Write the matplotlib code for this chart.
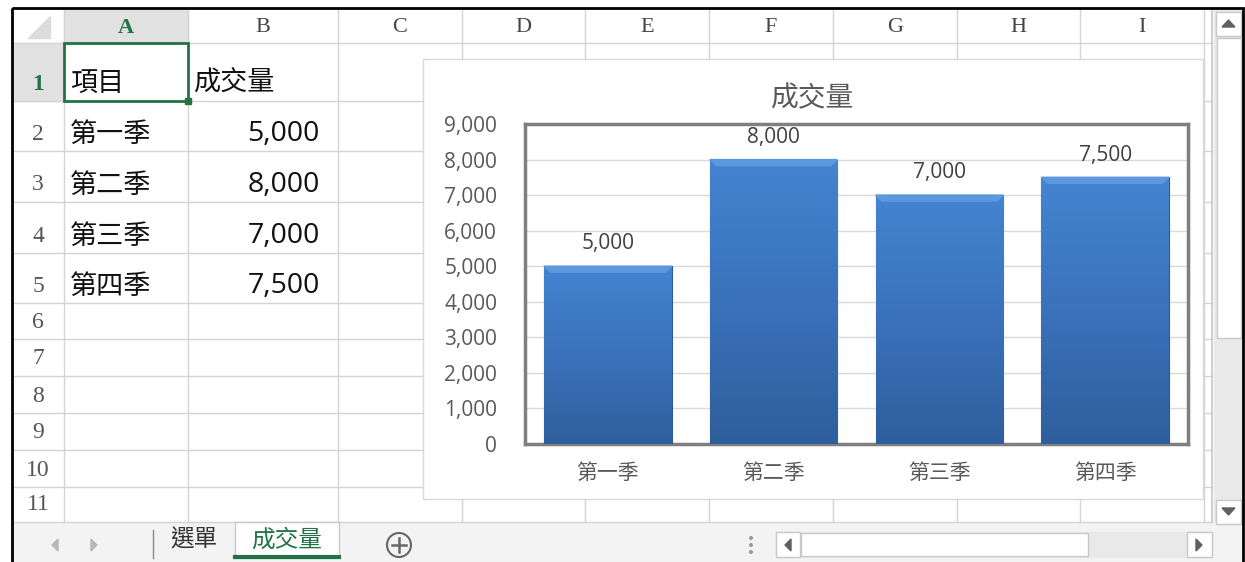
import matplotlib.pyplot as plt
import matplotlib.patches as mpatches
import numpy as np
from matplotlib.colors import LinearSegmentedColormap
from matplotlib.ticker import FuncFormatter, MultipleLocator

plt.rcParams['font.family'] = ['Noto Sans CJK TC', 'DejaVu Sans']

# sheet data
header_a = '項目'
header_b = '成交量'
quarters = ['第一季', '第二季', '第三季', '第四季']
volumes = [5000, 8000, 7000, 7500]
sheet_tabs = ['選單', '成交量']
col_letters = ['A', 'B', 'C', 'D', 'E', 'F', 'G', 'H', 'I']

W, H = 1245, 562
fig = plt.figure(figsize=(W / 100, H / 100), dpi=100)
bg = fig.add_axes([0, 0, 1, 1])
bg.set_xlim(0, W)
bg.set_ylim(H, 0)
bg.axis('off')

grid_c = '#d4d4d4'
green = '#217346'
serif = 'Liberation Serif'

# column and row edges of the sheet (pixels)
col_edges = [64, 188, 338, 462, 585, 709, 833, 957, 1080, 1204]
row_edges = [43, 101, 151, 202, 253, 303, 339, 376, 413, 450, 487, 522]
sheet_right = 1212

# header row / row header backgrounds
bg.add_patch(mpatches.Rectangle((12, 8), sheet_right - 12, 35, color='white', zorder=0))
bg.add_patch(mpatches.Rectangle((64, 8), 124, 35, color='#e1e1e1', zorder=1))
bg.add_patch(mpatches.Rectangle((12, 43), 52, 58, color='#e1e1e1', zorder=1))
bg.add_patch(mpatches.Polygon([[50, 16], [50, 38], [28, 38]], color='#dcdcdc', zorder=2))

# grid lines
for x in col_edges:
    bg.plot([x, x], [8, 522], color=grid_c, lw=1, zorder=2)
for y in row_edges:
    bg.plot([12, sheet_right], [y, y], color=grid_c, lw=1, zorder=2)
bg.plot([sheet_right, sheet_right], [8, 522], color='#c6c6c6', lw=1.2, zorder=2)

# column letters
for i, letter in enumerate(col_letters):
    cx = (col_edges[i] + col_edges[i + 1]) / 2
    bg.text(cx, 28, letter, ha='center', va='center', fontsize=16, family=serif,
            color=green if i == 0 else '#444444', fontweight='bold' if i == 0 else 'normal', zorder=3)

# row numbers (bottom aligned like excel)
for r in range(len(row_edges) - 1):
    cy = row_edges[r + 1] - 17
    bg.text(38, cy, str(r + 1), ha='center', va='center', fontsize=17, family=serif,
            color=green if r == 0 else '#555555', fontweight='bold' if r == 0 else 'normal', zorder=3)

# cell contents
bg.text(70, 83, header_a, ha='left', va='center', fontsize=19.5, color='#111111', zorder=3)
bg.text(194, 83, header_b, ha='left', va='center', fontsize=19.5, color='#111111', zorder=3)
for i, (q, v) in enumerate(zip(quarters, volumes)):
    cy = row_edges[i + 2] - 17
    bg.text(70, cy, q, ha='left', va='center', fontsize=19.5, color='#111111', zorder=3)
    bg.text(320, cy, f'{v:,}', ha='right', va='center', fontsize=20.5, family='Open Sans',
            color='#111111', zorder=3)

# selected cell A1
bg.add_patch(mpatches.Rectangle((64, 43), 124, 58, fill=False, ec=green, lw=2, zorder=4))
bg.add_patch(mpatches.Rectangle((185, 98), 6, 6, color=green, zorder=5))

# vertical scrollbar
bg.add_patch(mpatches.Rectangle((1214, 8), 29, 514, color='#e9e9e9', zorder=1))
bg.add_patch(mpatches.Rectangle((1216, 12), 25, 24, fc='white', ec='#c8c8c8', lw=1, zorder=2))
bg.add_patch(mpatches.Polygon([[1222, 27], [1235, 27], [1228.5, 20]], color='#606060', zorder=3))
bg.add_patch(mpatches.Rectangle((1217, 38), 24, 300, fc='white', ec='#c8c8c8', lw=1, zorder=2))
bg.add_patch(mpatches.Rectangle((1216, 500), 25, 24, fc='white', ec='#c8c8c8', lw=1, zorder=2))
bg.add_patch(mpatches.Polygon([[1222, 508], [1235, 508], [1228.5, 515]], color='#606060', zorder=3))

# bottom tab bar
bg.add_patch(mpatches.Rectangle((12, 522), 1231, 40, color='#f3f3f3', zorder=1))
bg.add_patch(mpatches.Polygon([[58, 539], [58, 551], [52, 545]], color='#b8b8b8', zorder=3))
bg.add_patch(mpatches.Polygon([[91, 539], [91, 551], [97, 545]], color='#b8b8b8', zorder=3))
bg.plot([153, 153], [530, 558], color='#888888', lw=1, zorder=3)
bg.text(194, 540, sheet_tabs[0], ha='center', va='center', fontsize=17, color='#333333', zorder=3)
bg.add_patch(mpatches.Rectangle((235, 522), 104, 36, fc='white', ec='#c8c8c8', lw=1, zorder=2))
bg.plot([235, 339], [557, 557], color=green, lw=3, zorder=3)
bg.text(287, 540, sheet_tabs[1], ha='center', va='center', fontsize=17, color=green, zorder=3)
bg.add_patch(mpatches.Circle((399, 545), 12, fill=False, ec='#666666', lw=1.5, zorder=3))
bg.plot([392, 406], [545, 545], color='#666666', lw=1.8, zorder=3)
bg.plot([399, 399], [538, 552], color='#666666', lw=1.8, zorder=3)
for dy in (-7, 0, 7):
    bg.add_patch(mpatches.Circle((751, 545 + dy), 1.3, color='#999999', zorder=3))

# horizontal scrollbar
bg.add_patch(mpatches.Rectangle((776, 532), 436, 25, color='#e9e9e9', zorder=2))
bg.add_patch(mpatches.Rectangle((776, 532), 24, 25, fc='white', ec='#c8c8c8', lw=1, zorder=3))
bg.add_patch(mpatches.Polygon([[785, 545], [791, 539], [791, 551]], color='#606060', zorder=4))
bg.add_patch(mpatches.Rectangle((801, 533), 287, 23, fc='white', ec='#c8c8c8', lw=1, zorder=3))
bg.add_patch(mpatches.Rectangle((1187, 532), 25, 25, fc='white', ec='#c8c8c8', lw=1, zorder=3))
bg.add_patch(mpatches.Polygon([[1196, 539], [1196, 551], [1202, 545]], color='#606060', zorder=4))

# outer frame
bg.add_patch(mpatches.Rectangle((12, 8), 1231, 560, fill=False, ec='black', lw=2, zorder=6))

# chart area
bg.add_patch(mpatches.Rectangle((423, 59), 780, 440, fc='white', ec='#d9d9d9', lw=1, zorder=7))
bg.text(813, 98, header_b, ha='center', va='center', fontsize=20, color='#595959', zorder=8)

# plot area
px0, py0, px1, py1 = 525, 124, 1188, 444
ax = fig.add_axes([px0 / W, 1 - py1 / H, (px1 - px0) / W, (py1 - py0) / H], zorder=10)
ax.set_facecolor('white')
x = np.arange(len(quarters))
bars = ax.bar(x, volumes, width=0.77, color='#3c78c3', edgecolor='#2b5a96', lw=0.8, zorder=3)
ax.yaxis.set_major_locator(MultipleLocator(1000))
ax.yaxis.set_major_formatter(FuncFormatter(lambda v, p: f'{int(v):,}'))
ax.grid(axis='y', color='#d9d9d9', lw=1, zorder=0)
ax.set_axisbelow(True)
for s in ax.spines.values():
    s.set_color('#7f7f7f')
    s.set_linewidth(2.5)
ax.tick_params(length=0)
ax.tick_params(axis='y', labelsize=15, labelcolor='#595959', pad=20)
ax.tick_params(axis='x', labelsize=15, labelcolor='#595959', pad=13)
for lbl in ax.get_yticklabels():
    lbl.set_family('Open Sans')
ax.set_xticks(x)
ax.set_xticklabels(quarters)

# gradient / bevel shading on each bar
cmap = LinearSegmentedColormap.from_list('bar', ['#2f5e9c', '#3a72bb', '#4484d1'])
grad = np.linspace(0, 1, 256).reshape(-1, 1)
top = 9000 * 6 / (py1 - py0)
for b in bars:
    bx, bw, bh = b.get_x(), b.get_width(), b.get_height()
    im = ax.imshow(grad, extent=[bx, bx + bw, 0, bh], origin='lower', cmap=cmap,
                   aspect='auto', zorder=3.5)
    im.set_clip_path(b)
    ax.add_patch(mpatches.Polygon([[bx, bh], [bx + bw, bh], [bx + bw * 0.95, bh - top],
                                   [bx + bw * 0.05, bh - top]],
                                  color='#5b98de', zorder=3.6))
    ax.text(bx + bw / 2, bh + 330, f'{int(bh):,}', ha='center', va='bottom', fontsize=15,
            family='Open Sans', color='#404040', zorder=4)
ax.set_xlim(-0.5, len(quarters) - 0.5)
ax.set_ylim(0, 9000)

fig.savefig('out.png', dpi=100)
